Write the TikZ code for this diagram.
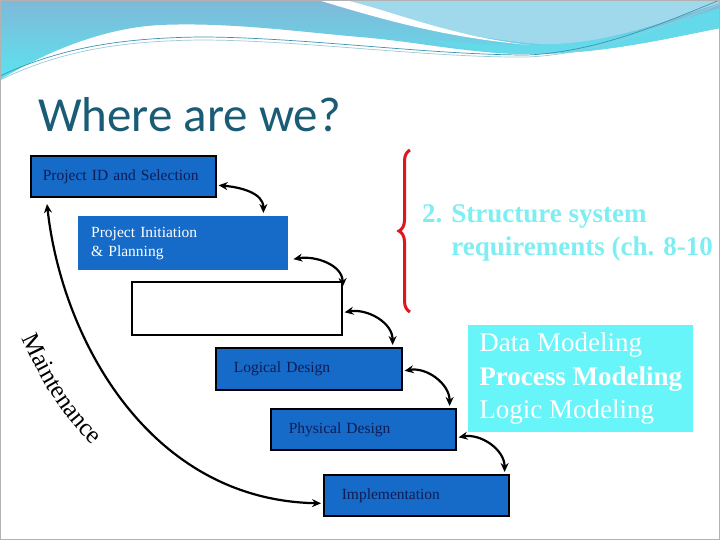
\documentclass[tikz,border=0pt]{standalone}
\usepackage{fontspec}
\setmainfont{Liberation Serif}
\newfontfamily\titlefont{Carlito}
\usetikzlibrary{arrows.meta,positioning,calc,decorations.pathreplacing,decorations.text}
\definecolor{boxblue}{RGB}{22,106,200}
\definecolor{boxtext}{RGB}{16,28,84}
\definecolor{aqua}{RGB}{104,245,250}
\definecolor{aquatext}{RGB}{126,238,242}
\definecolor{titleteal}{RGB}{26,92,118}
\definecolor{bracered}{RGB}{222,22,32}
\definecolor{waveblue}{RGB}{128,184,216}
\definecolor{wavecyan}{RGB}{90,228,240}
\definecolor{wavelight}{RGB}{160,216,236}
\definecolor{waveline}{RGB}{58,150,176}

\begin{document}
\begin{tikzpicture}[
  x=1pt,
  y=-1pt,
  >={Stealth[length=9pt,width=8pt]},
  link/.style={<->,line width=2.2pt},
  stage/.style={draw=black,line width=1.6pt,fill=boxblue,anchor=north west,
    inner xsep=18pt,align=left,text=boxtext,text width=#1,
    font=\fontsize{15.5}{19}\selectfont},
  plainstage/.style={fill=boxblue,anchor=north west,inner xsep=13pt,
    align=left,text=white,text width=#1,font=\fontsize{15.5}{19}\selectfont},
  blankstage/.style={draw=black,line width=1.6pt,fill=white,anchor=north west},
  modelbox/.style={fill=aqua,anchor=north west,align=left,
    text=white,minimum width=225pt,minimum height=107pt,
    font=\fontsize{27}{33.5}\selectfont},
  headline/.style={anchor=base west,text=titleteal,inner sep=0pt,
    font=\titlefont\fontsize{49}{49}\selectfont},
  wave/.style={line width=.7pt,draw=waveline}
]
\useasboundingbox (0,0) rectangle (720,540);
\fill[white] (0,0) rectangle (720,540);

% slide background wave
\shade[top color=waveblue,bottom color=wavecyan]
  (0,0) -- (720,0) -- (720,28) .. controls (660,40) and (600,54) .. (530,54)
  .. controls (470,54) and (420,42) .. (360,37)
  .. controls (300,32) and (230,22) .. (160,25)
  .. controls (100,28) and (40,55) .. (0,80) -- cycle;
\fill[wavecyan!75!waveblue]
  (430,40) .. controls (470,52) and (500,54) .. (530,54)
  .. controls (600,54) and (660,40) .. (720,28) -- (720,8)
  .. controls (650,30) and (600,44) .. (530,45)
  .. controls (490,45) and (460,43) .. (430,40) -- cycle;
\fill[wavelight]
  (330,0) .. controls (400,18) and (460,38) .. (540,44)
  .. controls (610,46) and (680,15) .. (720,3) -- (720,0) -- cycle;
\fill[white]
  (318,0) .. controls (390,22) and (450,38) .. (530,45)
  .. controls (450,36) and (395,12) .. (345,0) -- cycle;
\draw[wave] (0,76) .. controls (60,48) and (120,38) .. (200,37)
  .. controls (300,37) and (430,55) .. (527,55)
  .. controls (600,52) and (670,20) .. (720,0);
\draw[wave,draw=waveline!50] (0,80) .. controls (60,51) and (120,41) .. (200,40)
  .. controls (300,40) and (430,58) .. (527,57)
  .. controls (600,54) and (670,24) .. (720,4);
\draw[gray!60,line width=1pt] (0.5,0.5) rectangle (719.5,539.5);

\node[headline] (title) at (38,132) {Where are we?};

% waterfall stages
\node[stage=161pt,inner xsep=12pt,minimum height=41pt] (idsel) at (30,155)
  {Project ID and Selection};
\node[plainstage=184pt,minimum height=54pt] (init) at (78,216)
  {Project Initiation\\\& Planning};
\node[blankstage,minimum width=210pt,minimum height=53pt] (analysis) at (131,281) {};
\node[stage=150pt,minimum height=42pt] (logical) at (215,347) {Logical Design};
\node[stage=149pt,minimum height=41pt] (physical) at (270,408)
  {\raisebox{-4pt}{Physical Design}};
\node[stage=149pt,minimum height=41pt] (impl) at (323,474)
  {\raisebox{-4pt}{Implementation}};

\draw[link] ([xshift=2pt,yshift=-9pt]idsel.east) to[out=-5,in=90]
  ([xshift=-25pt,yshift=3pt]init.north east);
\draw[link] ([xshift=5pt,yshift=-16pt]init.east) to[out=10,in=90]
  ([yshift=-6pt]analysis.north east);
\draw[link] ([xshift=2pt,yshift=-4pt]analysis.east) to[out=10,in=90]
  ([xshift=-10pt,yshift=2pt]logical.north east);
\draw[link] ([xshift=2pt,yshift=-2pt]logical.east) to[out=10,in=90]
  ([xshift=-7pt,yshift=2pt]physical.north east);
\draw[link] ([xshift=2pt,yshift=-8pt]physical.east) to[out=10,in=90]
  ([xshift=-5pt,yshift=2pt]impl.north east);

% maintenance loop
\coordinate (mtop) at (47,204);
\draw[link] ([xshift=-2pt,yshift=-8pt]impl.west)
  .. controls (150,500) and (62,340) .. (mtop);
\path[decorate,decoration={text along path,
    text={|\fontsize{25}{25}\selectfont|Maintenance}}]
  (22,338) .. controls (40,376) and (62,422) .. (106,456);

% structure requirements
\coordinate (bracebot) at (410,312);
\coordinate (bracetop) at (410,150);
\draw[bracered,line width=3pt,decorate,
  decoration={brace,amplitude=11pt,aspect=.5}] (bracebot) -- (bracetop);
\node[anchor=west,text=aquatext,inner sep=0pt,align=left,
  font=\bfseries\fontsize{27}{33}\selectfont] (structure) at (422,232)
  {\begin{tabular}{@{}l@{ }l@{}}2.&Structure system\\&requirements (ch. 8-10\end{tabular}};

\node[modelbox] (models) at (468,325)
  {Data Modeling\\\textbf{Process Modeling}\\Logic Modeling};

\end{tikzpicture}
\end{document}
